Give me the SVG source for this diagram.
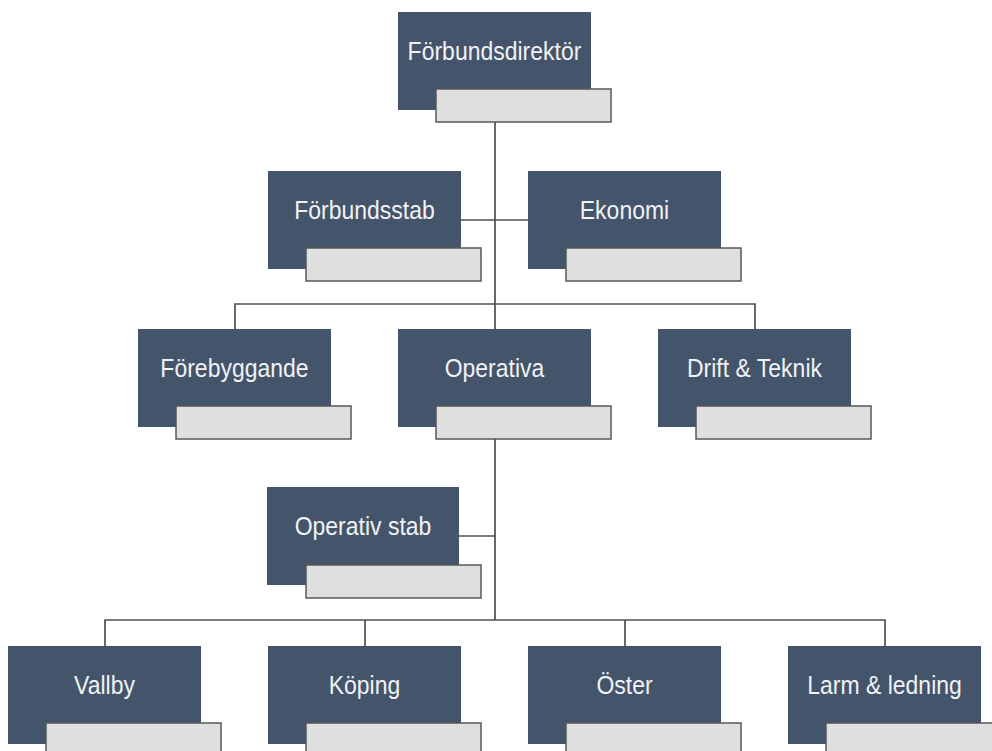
<svg xmlns="http://www.w3.org/2000/svg" width="992" height="751" viewBox="0 0 992 751">
<style>
.d{fill:#44546a}
.g{fill:#dfdfe0;stroke:#585858;stroke-width:1.5}
.t{font-family:"Liberation Sans",Arial,sans-serif;font-size:23px;fill:#f0f2f5;text-anchor:middle}
.c{stroke:#4f4f4f;stroke-width:1.7;fill:none}
</style>
<rect width="992" height="751" fill="#fff"/>
<g id="connectors">
<path class="c" d="M495,110V620M461,220H528M235,329V304H755V329M458,536H495M105,646V620H885V646M365,620V646M625,620V646"/>
</g>
<g id="forbundsdirektor"><rect class="d" x="398" y="12" width="193" height="98"/><rect class="g" x="436" y="89" width="175" height="33"/><text class="t" transform="translate(494.5,60) scale(1,1.12)">Förbundsdirektör</text></g>
<g id="forbundsstab"><rect class="d" x="268" y="171" width="193" height="98"/><rect class="g" x="306" y="248" width="175" height="33"/><text class="t" transform="translate(364.5,219) scale(1,1.12)">Förbundsstab</text></g>
<g id="ekonomi"><rect class="d" x="528" y="171" width="193" height="98"/><rect class="g" x="566" y="248" width="175" height="33"/><text class="t" transform="translate(624.5,219) scale(1,1.12)">Ekonomi</text></g>
<g id="forebyggande"><rect class="d" x="138" y="329" width="193" height="98"/><rect class="g" x="176" y="406" width="175" height="33"/><text class="t" transform="translate(234.5,377) scale(1,1.12)">Förebyggande</text></g>
<g id="operativa"><rect class="d" x="398" y="329" width="193" height="98"/><rect class="g" x="436" y="406" width="175" height="33"/><text class="t" transform="translate(494.5,377) scale(1,1.12)">Operativa</text></g>
<g id="drift"><rect class="d" x="658" y="329" width="193" height="98"/><rect class="g" x="696" y="406" width="175" height="33"/><text class="t" transform="translate(754.5,377) scale(1,1.12)">Drift &amp; Teknik</text></g>
<g id="operativstab"><rect class="d" x="267" y="487" width="192" height="98"/><rect class="g" x="306" y="565" width="175" height="33"/><text class="t" transform="translate(363,535) scale(1,1.12)">Operativ stab</text></g>
<g id="vallby"><rect class="d" x="8" y="646" width="193" height="98"/><rect class="g" x="46" y="723" width="175" height="33"/><text class="t" transform="translate(104.5,694) scale(1,1.12)">Vallby</text></g>
<g id="koping"><rect class="d" x="268" y="646" width="193" height="98"/><rect class="g" x="306" y="723" width="175" height="33"/><text class="t" transform="translate(364.5,694) scale(1,1.12)">Köping</text></g>
<g id="oster"><rect class="d" x="528" y="646" width="193" height="98"/><rect class="g" x="566" y="723" width="175" height="33"/><text class="t" transform="translate(624.5,694) scale(1,1.12)">Öster</text></g>
<g id="larm"><rect class="d" x="788" y="646" width="193" height="98"/><rect class="g" x="826" y="723" width="175" height="33"/><text class="t" transform="translate(884.5,694) scale(1,1.12)">Larm &amp; ledning</text></g>
</svg>
